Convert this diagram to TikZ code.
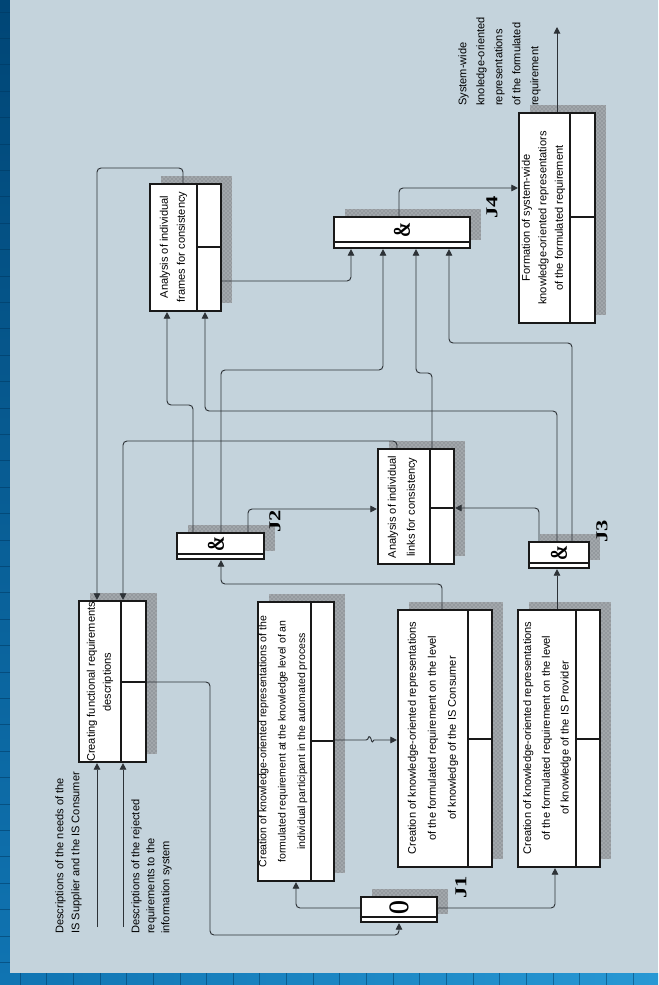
\documentclass[tikz,border=0pt]{standalone}
\usepackage{fontspec}
\setmainfont{Liberation Sans}
\newfontfamily\jfont{Liberation Serif}
\usepackage{graphicx}
\usetikzlibrary{arrows.meta,fit,patterns}

\definecolor{bgin}{RGB}{196,211,220}
\definecolor{blueA}{RGB}{0,70,118}
\definecolor{blueB}{RGB}{16,116,178}
\definecolor{blueC}{RGB}{40,152,212}
\definecolor{gridc}{RGB}{0,55,95}
\definecolor{shgray}{RGB}{148,153,158}
\definecolor{shlight}{RGB}{210,214,218}
\definecolor{linec}{RGB}{45,50,55}
\definecolor{boxc}{RGB}{25,25,25}

\tikzset{
  pbox/.style={draw=boxc, line width=1.6pt, fill=white, inner sep=0pt},
  pline/.style={draw=boxc, line width=1.6pt},
  conn/.style={draw=linec, line width=0.7pt, rounded corners=3pt},
  arr/.style={conn, -{Triangle[length=5pt,width=5pt]}},
  btext/.style={rotate=90, align=center, inner sep=0pt, font=\fontsize{8.3}{#1}\selectfont},
  ltext/.style={rotate=90, align=left, inner sep=0pt, anchor=north west, font=\fontsize{8.3}{#1}\selectfont},
  jsym/.style={rotate=90, inner sep=0pt},
}

\newcommand\mkshadow[4]{%
  \fill[shgray] (#1+11,#2-8) rectangle (#3+11,#4-8);
  \fill[pattern=crosshatch dots, pattern color=shlight] (#1+11,#2-8) rectangle (#3+11,#4-8);
}
\newcommand\procbox[7]{%
  \mkshadow{#2}{#3}{#4}{#5}
  \node[pbox, fit={(#2,#3) (#4,#5)}] (#1) {};
  \draw[pline] (#1.north -| #6,0) -- (#1.south -| #6,0);
  \draw[pline] (#6,#7) -- (#1.east |- 0,#7);
}
\newcommand\junc[6]{%
  \mkshadow{#2}{#3}{#4}{#5}
  \node[pbox, fit={(#2,#3) (#4,#5)}] (#1) {};
  \draw[draw=boxc, line width=1pt] (#1.west |- 0,#6) -- (#1.east |- 0,#6);
}
\newcommand\jlab[1]{\jfont\bfseries\fontsize{12.5}{12.5}\selectfont\scalebox{1.35}[1]{#1}}
\newcommand\jamp{\jfont\bfseries\fontsize{18}{18}\selectfont\scalebox{0.75}[1]{\&}}
\newcommand\jor{\jfont\bfseries\fontsize{21.5}{21.5}\selectfont\scalebox{0.62}[1]{O}}

\begin{document}
\begin{tikzpicture}[x=0.75pt, y=-0.75pt]
\useasboundingbox (0,0) rectangle (658,985);
% background frame
\shade[top color=blueA, bottom color=blueB] (0,0) rectangle (12,985);
\shade[left color=blueB, right color=blueC] (0,973) rectangle (658,985);
\foreach \i in {0,...,23} \draw[gridc, line width=0.6pt, opacity=0.5] (20+26.65*\i,973) -- (20+26.65*\i,985);
\foreach \i in {0,...,36} \draw[gridc, line width=0.6pt, opacity=0.5] (0,12+26.4*\i) -- (10,12+26.4*\i);
\fill[bgin] (10,0) rectangle (658,973);

% process boxes
\procbox{frames}{150}{184}{221}{311}{197}{247}
\procbox{formation}{519}{113}{595}{323}{570}{217}
\procbox{links}{378}{449}{454}{564}{430}{508}
\procbox{creating}{79}{601}{146}{762}{121}{682}
\procbox{individual}{258}{602}{334}{881}{311}{741}
\procbox{consumer}{398}{610}{492}{867}{468}{739}
\procbox{provider}{518}{610}{600}{867}{576}{739}

% junctions
\junc{jone}{361}{897}{437}{922}{917}
\junc{jtwo}{177}{533}{264}{559}{554}
\junc{jthree}{529}{542}{589}{568}{563}
\junc{jfour}{334}{217}{470}{248}{242}

% free ends
\coordinate (inA) at (97,927);
\coordinate (inB) at (123,927);
\coordinate (outF) at (557,27);

% connectors
\draw[arr] (frames.north -| 183,0) -- (183,168) -- (97,168) -- (creating.north -| 97,0);
\draw[arr] (links.north -| 397,0) -- (397,441) -- (123,441) -- (creating.north -| 123,0);
\draw[arr] (inA) -- (creating.south -| inA);
\draw[arr] (inB) -- (creating.south -| inB);
\draw[arr] (creating.east |- 0,682) -- (210,682) -- (210,935) -- (399,935) -- (jone.south -| 399,0);
\draw[arr] (jone.west |- 0,908) -- (296,908) -- (individual.south -| 296,0);
\draw[arr] (jone.east |- 0,908) -- (555,908) -- (provider.south -| 555,0);
\draw[draw=linec, line width=0.7pt, -{Triangle[length=5pt,width=5pt]}] (individual.east |- 0,740) -- (366,740) .. controls (369,740) and (368,735) .. (370,737) .. controls (372,739) and (371,745) .. (374,740) -- (consumer.west |- 0,740);
\draw[arr] (consumer.north -| 442,0) -- (442,584) -- (221,584) -- (jtwo.south -| 221,0);
\draw[arr] (provider.north -| 557,0) -- (jthree.south -| 557,0);
\draw[arr] (jtwo.north -| 193,0) -- (193,405) -- (167,405) -- (frames.south -| 167,0);
\draw[arr] (jtwo.north -| 221,0) -- (221,370) -- (383,370) -- (jfour.south -| 383,0);
\draw[arr] (jtwo.north -| 248,0) -- (248,509) -- (links.west |- 0,509);
\draw[arr] (jthree.north -| 539,0) -- (539,508) -- (links.east |- 0,508);
\draw[arr] (jthree.north -| 557,0) -- (557,411) -- (205,411) -- (frames.south -| 205,0);
\draw[arr] (jthree.north -| 572,0) -- (572,343) -- (449,343) -- (jfour.south -| 449,0);
\draw[arr] (links.north -| 432,0) -- (432,373) -- (416,373) -- (jfour.south -| 416,0);
\draw[arr] (frames.east |- 0,281) -- (351,281) -- (jfour.south -| 351,0);
\draw[arr] (jfour.north -| 399,0) -- (399,188) -- (formation.west |- 0,188);
\draw[arr] (formation.north -| 557,0) -- (outF);

% box texts
\node[btext=12.75pt] (frames-t) at (173.5,247) {Analysis of individual\\frames for consistency};
\node[btext=14.25pt] (links-t) at (402.5,507) {Analysis of individual\\links for consistency};
\node[btext=12pt] (creating-t) at (100,682) {Creating functional requirements\\descriptions};
\node[btext=14.6pt, font=\fontsize{7.9}{14.6pt}\selectfont] (individual-t) at (283,741.5) {Creation of knowledge-oriented representations of the\\formulated requirement at the knowledge level of an\\individual participant in the automated process};
\node[btext=15pt] (consumer-t) at (433,738) {Creation of knowledge-oriented representations\\of the formulated requirement on the level\\of knowledge of the IS Consumer};
\node[btext=14pt] (provider-t) at (547,738) {Creation of knowledge-oriented representations\\of the formulated requirement on the level\\of knowledge of the IS Provider};
\node[btext=12.4pt] (formation-t) at (543.5,218) {Formation of system-wide\\knowledge-oriented representatiors\\of the formulated requirement};

% free labels
\node[ltext=13.5pt] (outlabel) at (458,106) {System-wide\\knoledge-oriented\\representations\\of the formulated\\requirement};
\node[ltext=12pt] (inlabel1) at (55,934) {Descriptions of the needs of the\\IS Supplier and the IS Consumer};
\node[ltext=11.3pt] (inlabel2) at (131,934) {Descriptions of the rejected\\requirements to the\\information system};

% junction symbols and labels
\node[jsym] (jone-s) at (399,908) {\jor};
\node[jsym] (jtwo-s) at (216,544) {\jamp};
\node[jsym] (jthree-s) at (559,553) {\jamp};
\node[jsym] (jfour-s) at (402,230) {\jamp};
\node[jsym] (jone-l) at (461,887) {\jlab{J1}};
\node[jsym] (jtwo-l) at (275,521) {\jlab{J2}};
\node[jsym] (jthree-l) at (602,531) {\jlab{J3}};
\node[jsym] (jfour-l) at (492,207) {\jlab{J4}};
\end{tikzpicture}
\end{document}
